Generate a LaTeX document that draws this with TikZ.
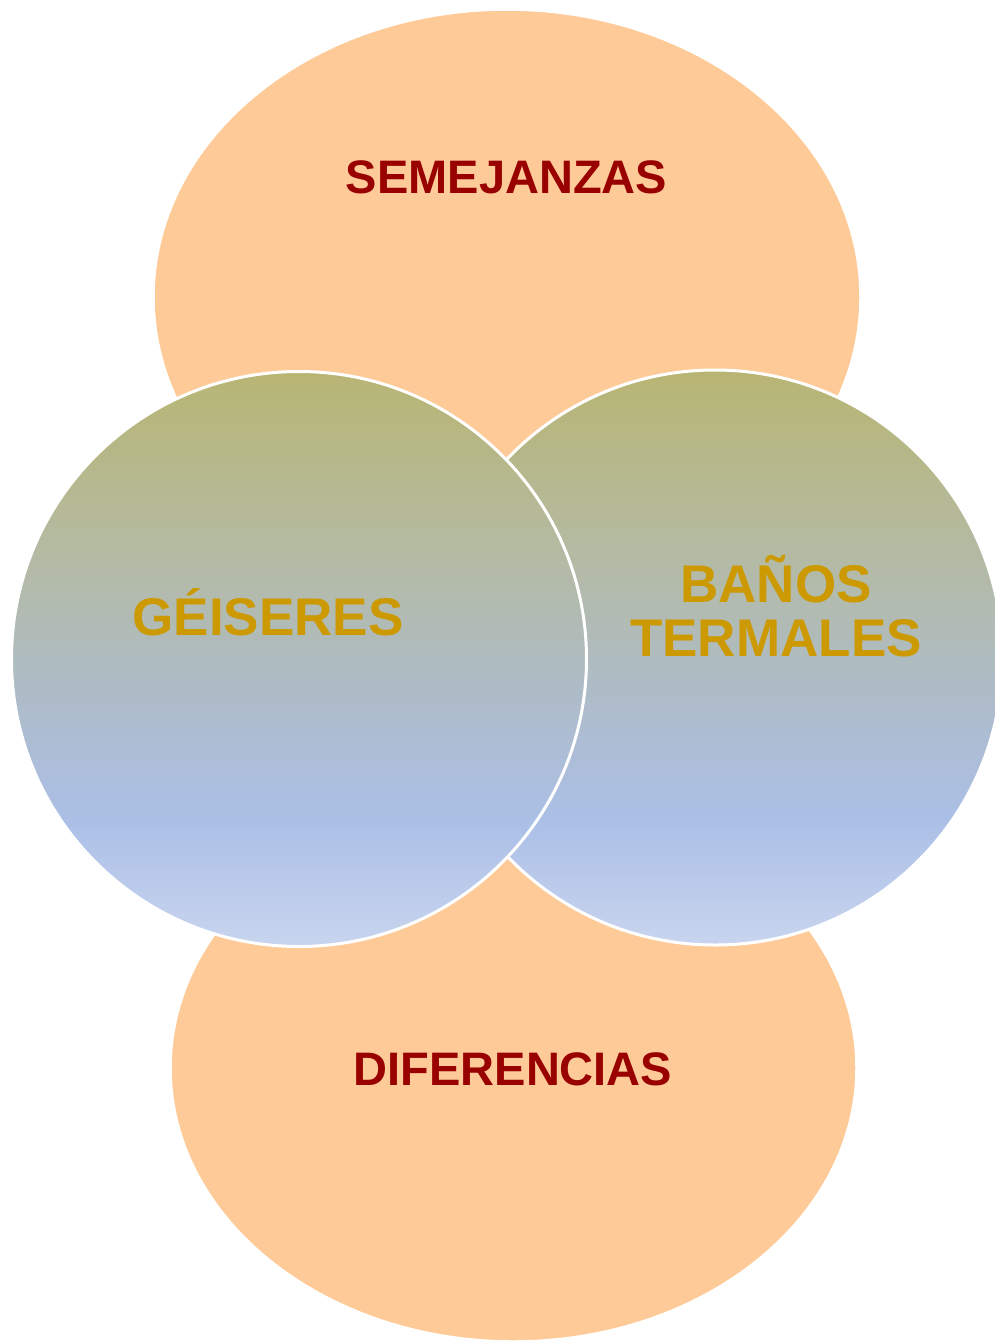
\documentclass[tikz,border=0pt]{standalone}
\usepackage{fontspec}
\setmainfont{Liberation Sans}
\usetikzlibrary{shapes.geometric}
\definecolor{peach}{HTML}{FECA98}
\definecolor{darkred}{HTML}{990000}
\definecolor{gold}{HTML}{CC9900}
\definecolor{gA}{HTML}{C9D5EF}
\definecolor{gB}{HTML}{ABBFE6}
\definecolor{gC}{HTML}{AEBCC8}
\definecolor{gD}{HTML}{B4BAA0}
\definecolor{gE}{HTML}{B8B573}
\pgfdeclareverticalshading{venncirc}{100bp}{color(0bp)=(gA); color(25bp)=(gA); color(36bp)=(gB); color(47bp)=(gC); color(60bp)=(gD); color(75bp)=(gE); color(100bp)=(gE)}
\tikzset{
  oval/.style={ellipse, fill=peach, draw=white, line width=1.5pt, inner sep=0pt},
  ball/.style={circle, shading=venncirc, draw=white, line width=3pt, inner sep=0pt, minimum size=575pt},
  redlabel/.style={text=darkred, font=\bfseries\fontsize{47}{47}\selectfont, inner sep=0pt, anchor=base},
  goldlabel/.style={text=gold, font=\bfseries\fontsize{53}{54}\selectfont, inner sep=0pt, anchor=base, align=center}
}
\begin{document}
\begin{tikzpicture}[x=1pt,y=-1pt]
\useasboundingbox (0,0) rectangle (995,1341);
\node[oval, minimum width=706pt, minimum height=574pt] (top) at (507,297) {};
\node[oval, minimum width=685pt, minimum height=546pt] (bottom) at (513.5,1068) {};
\node[ball] (right) at (715,657.5) {};
\node[ball] (left) at (299,659) {};
\node[redlabel] (sem) at (506.5,193) {SEMEJANZAS};
\node[redlabel] (dif) at (513,1085) {DIFERENCIAS};
\node[goldlabel] (gei) at (268,635) {GÉISERES};
\node[goldlabel] (ban) at (776,656) {BAÑOS\\TERMALES};
\end{tikzpicture}
\end{document}
